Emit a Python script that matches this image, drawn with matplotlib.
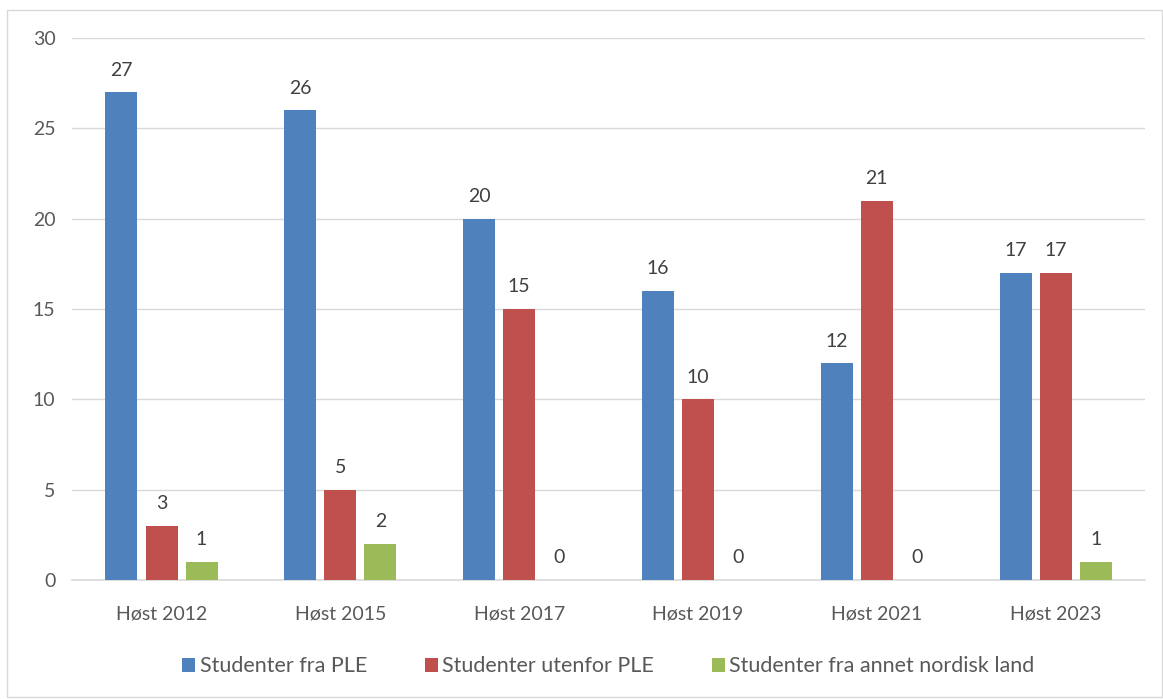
import numpy as np
import matplotlib
matplotlib.use("Agg")
import matplotlib.pyplot as plt
from matplotlib.patches import Rectangle

plt.rcParams['font.family'] = ['Lato', 'DejaVu Sans']

categories = ["Høst 2012", "Høst 2015", "Høst 2017", "Høst 2019", "Høst 2021", "Høst 2023"]
ple = [27, 26, 20, 16, 12, 17]
utenfor = [3, 5, 15, 10, 21, 17]
nordisk = [1, 2, 0, 0, 0, 1]
series_names = ["Studenter fra PLE", "Studenter utenfor PLE", "Studenter fra annet nordisk land"]
colors = ["#4F81BD", "#C0504D", "#9BBB59"]

fig = plt.figure(figsize=(11.63, 6.99), dpi=100)
ax = fig.add_axes([0.062, 0.1702, 0.9225, 0.7754])

x = np.arange(len(categories))
w = 0.179
step = 0.224
for i, (vals, name, c) in enumerate(zip([ple, utenfor, nordisk], series_names, colors)):
    pos = x + (i - 1) * step
    bars = ax.bar(pos, vals, width=w, color=c, label=name, zorder=3)
    for p, v in zip(pos, vals):
        ax.text(p, v + 0.75, str(v), ha="center", va="bottom", fontsize=14, color="#404040")

ax.set_xlim(-0.5, len(categories) - 0.5)
ax.set_ylim(0, 30)
ax.set_yticks(range(0, 31, 5))
ax.set_xticks(x)
ax.set_xticklabels(categories)
ax.grid(axis="y", color="#D9D9D9", linewidth=1, zorder=0)
for s in ["top", "right", "left"]:
    ax.spines[s].set_visible(False)
ax.spines["bottom"].set_color("#D9D9D9")
ax.spines["bottom"].set_linewidth(1.2)
ax.tick_params(axis="both", length=0, labelsize=14, colors="#595959")
ax.tick_params(axis="x", pad=18)
ax.tick_params(axis="y", pad=12)

ax.legend(loc="upper center", bbox_to_anchor=(0.5, -0.105), ncol=3, frameon=False,
          fontsize=15.5, labelcolor="#595959", handlelength=0.6, handleheight=0.6,
          handletextpad=0.2, columnspacing=2.7)

fig.patches.append(Rectangle((0.006, 0.003), 0.993, 0.983, transform=fig.transFigure,
                             fill=False, edgecolor="#D9D9D9", linewidth=1))

fig.savefig("out.png", dpi=100)
